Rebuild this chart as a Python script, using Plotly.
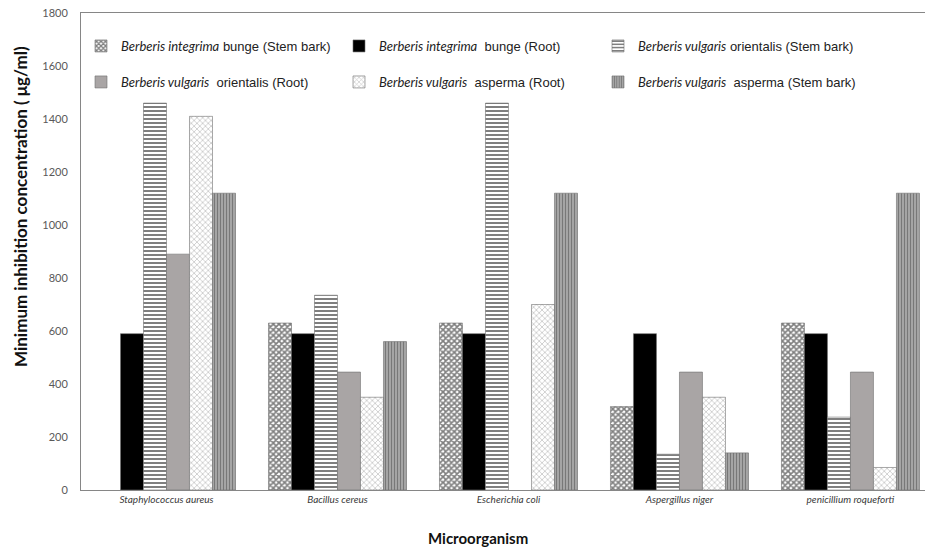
import plotly.graph_objects as go

# Microorganisms tested (x categories)
organisms = [
    "Staphylococcus aureus",
    "Bacillus cereus",
    "Escherichia coli",
    "Aspergillus niger",
    "penicillium roqueforti",
]

# Extract labels (species in italics, variety / plant part in roman)
species = [
    "Berberis integrima",
    "Berberis integrima",
    "Berberis vulgaris",
    "Berberis vulgaris",
    "Berberis vulgaris",
    "Berberis vulgaris",
]
suffixes = [
    " bunge (Stem bark)",
    "  bunge (Root)",
    " orientalis (Stem bark)",
    "  orientalis (Root)",
    "  asperma (Root)",
    "  asperma (Stem bark)",
]

# MIC values (µg/ml); None = not determined
integrima_stem = [None, 630, 630, 315, 630]
integrima_root = [590, 590, 590, 590, 590]
orientalis_stem = [1460, 735, 1460, 135, 275]
orientalis_root = [890, 445, None, 445, 445]
asperma_root = [1410, 350, 700, 350, 85]
asperma_stem = [1120, 560, 1120, 140, 1120]

series_values = [
    integrima_stem,
    integrima_root,
    orientalis_stem,
    orientalis_root,
    asperma_root,
    asperma_stem,
]

# Fill styles for each extract
fills = [
    dict(color="white", pattern=dict(shape="x", fgcolor="black", bgcolor="white",
                                     size=4, solidity=0.65, fillmode="overlay")),
    dict(color="black"),
    dict(color="white", pattern=dict(shape="-", fgcolor="black", bgcolor="white",
                                     size=4, solidity=0.5, fillmode="overlay")),
    dict(color="#a9a5a5"),
    dict(color="white", pattern=dict(shape="x", fgcolor="#8a8a8a", bgcolor="white",
                                     size=4, solidity=0.35, fillmode="overlay")),
    dict(color="#a8a8a8", pattern=dict(shape="|", fgcolor="#3c3c3c", bgcolor="#b4b4b4",
                                       size=3, solidity=0.5, fillmode="overlay")),
]

ITALIC = '<span style="font-family:Lato"><i>{}</i></span>{}'

# Plot area geometry (pixels) used to place the legend entries
PLOT_L, PLOT_W, PLOT_B, PLOT_H = 81, 844, 490, 477
legend_cols = [121, 379, 638]   # left edge of the entry text
legend_rows = [46, 82]          # vertical centre of each legend row

fig = go.Figure()
legend_layout = {}
for i, (vals, sp, suf, fill) in enumerate(zip(series_values, species, suffixes, fills)):
    key = "legend" if i == 0 else f"legend{i + 1}"
    fig.add_trace(go.Bar(
        x=organisms,
        y=vals,
        name=ITALIC.format(sp, suf),
        marker=dict(line=dict(color="#6e6e6e", width=0.6), **fill),
        legend=key,
        showlegend=True,
    ))
    col, row = i % 3, i // 3
    legend_layout[key] = dict(
        visible=True,
        xanchor="left",
        yanchor="middle",
        x=(legend_cols[col] - 40 - PLOT_L) / PLOT_W,
        y=(PLOT_B - legend_rows[row]) / PLOT_H,
        bgcolor="rgba(0,0,0,0)",
        font=dict(family="Liberation Sans, Arial, sans-serif", size=13, color="#222222"),
    )

fig.update_layout(
    width=925,
    height=549,
    margin=dict(l=PLOT_L, r=0, t=13, b=59),
    paper_bgcolor="white",
    plot_bgcolor="white",
    showlegend=True,
    barmode="group",
    bargap=0.193,
    bargroupgap=0,
    xaxis=dict(
        range=[-0.5, 4.436],
        showline=True,
        linecolor="#868686",
        linewidth=1,
        mirror=True,
        ticks="",
        showgrid=False,
        tickfont=dict(family="Lato, sans-serif", size=10, color="#3a3a3a", style="italic"),
    ),
    yaxis=dict(
        range=[0, 1800],
        dtick=200,
        showline=True,
        linecolor="#868686",
        linewidth=1,
        ticks="",
        showgrid=False,
        zeroline=False,
        ticklabelstandoff=10,
        tickfont=dict(family="Lato, sans-serif", size=11, color="#595959"),
    ),
    annotations=[
        dict(
            text="Minimum inhibition concentration ( μg/ml)",
            xref="paper", yref="paper",
            x=(20 - PLOT_L) / PLOT_W, y=(PLOT_B - 207) / PLOT_H,
            xanchor="center", yanchor="middle",
            textangle=-90, showarrow=False,
            font=dict(family="Lato, sans-serif", size=17, color="#111111", weight="bold"),
        ),
        dict(
            text="Microorganism",
            xref="paper", yref="paper",
            x=(478 - PLOT_L) / PLOT_W, y=(PLOT_B - 538) / PLOT_H,
            xanchor="center", yanchor="middle",
            showarrow=False,
            font=dict(family="Lato, sans-serif", size=15, color="#111111", weight="bold"),
        ),
    ],
)
fig.update_layout(**legend_layout)

fig.write_html("out.html")
